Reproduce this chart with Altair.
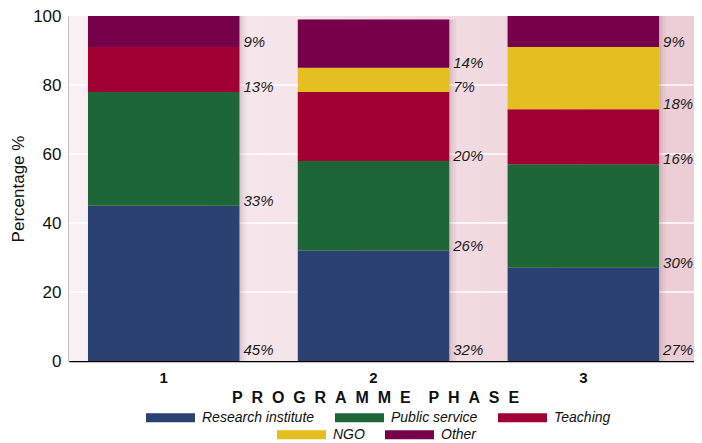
import altair as alt
import pandas as pd

# ---- data ----
phases = ["1", "2", "3"]
categories = ["Research institute", "Public service", "Teaching", "NGO", "Other"]
colors = ["#2b4172", "#1c6638", "#a00033", "#e5bf1f", "#77004b"]
research = [45, 32, 27]
public = [33, 26, 30]
teaching = [13, 20, 16]
ngo = [0, 7, 18]
other = [9, 14, 9]
grid_values = [20, 40, 60, 80]
y_ticks = [0, 20, 40, 60, 80, 100]

series = [research, public, teaching, ngo, other]
rows = []
for ci, (cat, vals) in enumerate(zip(categories, series)):
    for p, v in zip(phases, vals):
        rows.append({"phase": p, "category": cat, "order": ci, "value": v,
                     "label": f"{v}%"})
df = pd.DataFrame(rows)
totals = pd.DataFrame({"phase": phases,
                       "total": [sum(s[i] for s in series) for i in range(3)]})

W, H = 625, 345
LS = "Liberation Sans, Arial, sans-serif"

xscale = alt.Scale(domain=phases, paddingInner=0.278, paddingOuter=0.1285, align=0.352)
yscale = alt.Scale(domain=[0, 100], nice=False, zero=True)

title_x = "\u00a0\u00a0".join("PROGRAMME") + "\u00a0" * 4 + "\u00a0\u00a0".join("PHASE")

x_axis = alt.Axis(title=title_x, labelAngle=0, ticks=False, domainColor="black",
                  domainWidth=1.5, labelFont=LS, labelFontWeight="bold",
                  labelFontSize=15, labelPadding=9, labelColor="#111",
                  titleFont=LS, titleFontWeight="bold", titleFontSize=16,
                  titlePadding=4, titleX=306, titleAlign="center", titleColor="#111")
y_axis = alt.Axis(title="Percentage %", values=y_ticks, grid=False, ticks=False,
                  domainColor="black", domainWidth=1.5, labelFont=LS,
                  labelFontSize=17, labelPadding=8, labelColor="#111",
                  titleFont=LS, titleFontSize=17, titleFontWeight="normal",
                  titlePadding=5, titleColor="#111")

# background gradient
background = alt.Chart(pd.DataFrame({"a": [0]})).mark_rect(
    color=alt.LinearGradient(
        gradient="linear", x1=0, x2=1, y1=0, y2=0,
        stops=[alt.GradientStop(color="#faf0f3", offset=0),
               alt.GradientStop(color="#f3dfe5", offset=0.5),
               alt.GradientStop(color="#ecccd5", offset=1)])
).encode(x=alt.value(0), x2=alt.value(W), y=alt.value(0), y2=alt.value(H))

grid = alt.Chart(pd.DataFrame({"v": grid_values})).mark_rule(
    color="white", strokeWidth=1.5
).encode(y=alt.Y("v:Q", scale=yscale, axis=y_axis))

shadows = []
for k, op in [(2, 0.07), (4, 0.06), (7, 0.05)]:
    shadows.append(
        alt.Chart(totals).mark_bar(color="#5b2b3b", opacity=op, xOffset=k).encode(
            x=alt.X("phase:N", scale=xscale, axis=x_axis),
            y=alt.Y("total:Q", scale=yscale, axis=y_axis),
        )
    )

base = alt.Chart(df).transform_stack(
    stack="value", groupby=["phase"],
    sort=[alt.SortField("order", order="ascending")], as_=["y0", "y1"]
)

SYMBOL = "M-1,-0.184H1V0.184H-1Z"
legend_common = dict(title=None, orient="none", direction="horizontal",
                     symbolType=SYMBOL, symbolSize=2401, symbolStrokeWidth=0,
                     symbolOpacity=1, labelFont=LS, labelFontStyle="italic",
                     labelFontSize=14, labelOffset=7, columnPadding=20,
                     labelColor="#111", padding=0)

bars_a = base.transform_filter("datum.order < 3").mark_bar().encode(
    x=alt.X("phase:N", scale=xscale, axis=x_axis),
    y=alt.Y("y0:Q", scale=yscale, axis=y_axis),
    y2="y1:Q",
    color=alt.Color("category:N",
                    scale=alt.Scale(domain=categories[:3], range=colors[:3]),
                    sort=categories[:3],
                    legend=alt.Legend(legendX=77, legendY=377, **legend_common)),
)
bars_b = base.transform_filter("datum.order >= 3").mark_bar().encode(
    x=alt.X("phase:N", scale=xscale, axis=x_axis),
    y=alt.Y("y0:Q", scale=yscale, axis=y_axis),
    y2="y1:Q",
    fill=alt.Fill("category:N",
                  scale=alt.Scale(domain=categories[3:], range=colors[3:]),
                  sort=categories[3:],
                  legend=alt.Legend(legendX=208, legendY=394, **legend_common)),
)

labels = base.transform_filter("datum.value > 0").transform_calculate(
    lab_y="max(datum.y0, 1.6)"
).mark_text(align="left", baseline="alphabetic", dx=4, font=LS,
            fontStyle="italic", fontSize=15, color="#1a1a1a").encode(
    x=alt.X("phase:N", scale=xscale, bandPosition=1, axis=x_axis),
    y=alt.Y("lab_y:Q", scale=yscale, axis=y_axis),
    text="label:N",
)

chart = alt.layer(background, grid, *shadows, bars_a, bars_b, labels).properties(
    width=W, height=H,
    autosize=alt.AutoSizeParams(type="none"),
    padding={"left": 61, "top": 8, "right": 0, "bottom": 81},
).configure_view(stroke=None).resolve_scale(color="independent")

chart.save("out.html", embed_options={"renderer": "svg", "actions": False})
